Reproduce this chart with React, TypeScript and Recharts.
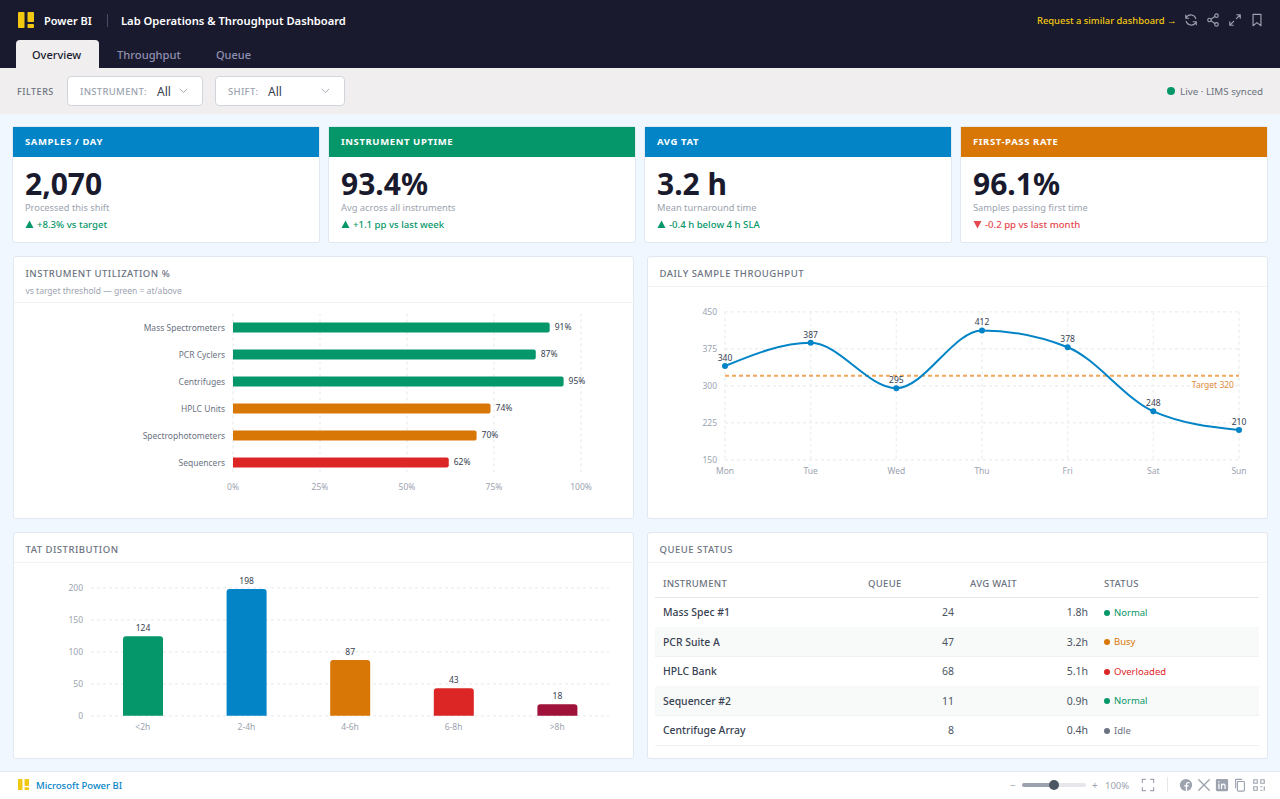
import { BarChart, Bar, LineChart, Line, XAxis, YAxis, CartesianGrid, Cell, LabelList, ReferenceLine } from 'recharts'

const FONT = '"Noto Sans", sans-serif'
const GREEN = '#059669'
const BLUE = '#0284c7'
const AMBER = '#d97706'
const RED = '#dc2626'
const MAROON = '#9f1239'
const GRID = '#eef0f2'

// utilization
const instruments = ['Mass Spectrometers', 'PCR Cyclers', 'Centrifuges', 'HPLC Units', 'Spectrophotometers', 'Sequencers']
const utilization = [91, 87, 95, 74, 70, 62]
const utilColors = [GREEN, GREEN, GREEN, AMBER, AMBER, RED]
const utilTicks = [0, 25, 50, 75, 100]

// throughput
const days = ['Mon', 'Tue', 'Wed', 'Thu', 'Fri', 'Sat', 'Sun']
const samples = [340, 387, 295, 412, 378, 248, 210]
const sampleTicks = [150, 225, 300, 375, 450]
const targetSamples = 320

// TAT
const tatBuckets = ['<2h', '2-4h', '4-6h', '6-8h', '>8h']
const tatCounts = [124, 198, 87, 43, 18]
const tatColors = [GREEN, BLUE, AMBER, RED, MAROON]
const tatTicks = [0, 50, 100, 150, 200]

// queue table
const queueNames = ['Mass Spec #1', 'PCR Suite A', 'HPLC Bank', 'Sequencer #2', 'Centrifuge Array']
const queueCounts = [24, 47, 68, 11, 8]
const queueWaits = ['1.8h', '3.2h', '5.1h', '0.9h', '0.4h']
const queueStatus = ['Normal', 'Busy', 'Overloaded', 'Normal', 'Idle']
const statusColors: Record<string, string> = { Normal: GREEN, Busy: AMBER, Overloaded: RED, Idle: '#6b7280' }

// KPI cards
const kpiTitles = ['SAMPLES / DAY', 'INSTRUMENT UPTIME', 'AVG TAT', 'FIRST-PASS RATE']
const kpiValues = ['2,070', '93.4%', '3.2 h', '96.1%']
const kpiSubs = ['Processed this shift', 'Avg across all instruments', 'Mean turnaround time', 'Samples passing first time']
const kpiDeltas = ['+8.3% vs target', '+1.1 pp vs last week', '-0.4 h below 4 h SLA', '-0.2 pp vs last month']
const kpiColors = [BLUE, GREEN, BLUE, AMBER]

const utilData = instruments.map((name, i) => ({ name, value: utilization[i] }))
const sampleData = days.map((day, i) => ({ day, value: samples[i] }))
const tatData = tatBuckets.map((bucket, i) => ({ bucket, value: tatCounts[i] }))

const box = (left: number, top: number, width: number, height: number): React.CSSProperties => ({
  position: 'absolute', left, top, width, height, boxSizing: 'border-box',
})
const txt = (left: number, cy: number, size: number, color: string, weight = 400): React.CSSProperties => ({
  position: 'absolute', left, top: cy - 10, height: 20, lineHeight: '20px', fontSize: size, color, fontWeight: weight, whiteSpace: 'nowrap',
})

function Logo({ x, y, h }: { x: number; y: number; h: number }) {
  const k = h / 16
  return (
    <svg style={{ position: 'absolute', left: x, top: y }} width={16 * k} height={h} viewBox="0 0 16 16">
      <rect x="0" y="0" width="6.5" height="16" rx="0.8" fill="#f2c811" />
      <rect x="9.5" y="0" width="6.5" height="10" rx="0.8" fill="#f2c811" />
      <rect x="9.5" y="12" width="6.5" height="4" rx="0.8" fill="#f2c811" />
    </svg>
  )
}

function Icon({ x, y, children, color = '#9ca3af', size = 14 }: { x: number; y: number; children: React.ReactNode; color?: string; size?: number }) {
  return (
    <svg style={{ position: 'absolute', left: x, top: y }} width={size} height={size} viewBox="0 0 16 16" fill="none" stroke={color} strokeWidth="1.3" strokeLinecap="round" strokeLinejoin="round">
      {children}
    </svg>
  )
}

function Card({ x, y, w, h, title, sub, headH }: { x: number; y: number; w: number; h: number; title: string; sub?: string; headH: number }) {
  return (
    <div style={{ ...box(x, y, w, h), background: '#fff', border: '1px solid #e2e8f0', borderRadius: 3 }}>
      <div style={txt(12, 17, 9.5, '#6b7280', 500)}><span style={{ letterSpacing: 0.5 }}>{title}</span></div>
      {sub && <div style={txt(12, 34, 8.5, '#9ca3af')}>{sub}</div>}
      <div style={{ ...box(0, headH, w - 2, 1), background: '#f1f3f5' }} />
    </div>
  )
}

const axisTick = { fontSize: 8.5, fill: '#9ca3af', fontFamily: FONT }
const valueLabel = { fontSize: 8.5, fill: '#374151', fontFamily: FONT }

export default function App() {
  return (
    <div style={{ ...box(0, 0, 1280, 799), position: 'fixed', overflow: 'hidden', background: '#f0f7ff', fontFamily: FONT }}>
      {/* top bar */}
      <div style={{ ...box(0, 0, 1280, 68), background: '#1a1a2e' }} />
      <Logo x={18} y={12} h={16} />
      <div style={txt(44, 21, 11, '#fff', 600)}>Power BI</div>
      <div style={{ ...box(107, 14, 1, 13), background: '#4b4b68' }} />
      <div style={txt(121, 21, 11.2, '#fff', 600)}>Lab Operations &amp; Throughput Dashboard</div>
      <div style={txt(1037, 21, 9.4, '#f2c811', 500)}>Request a similar dashboard →</div>
      <Icon x={1184} y={13}><path d="M13.5 6.5A6 6 0 0 0 3 4.5L2 6M2.5 9.5A6 6 0 0 0 13 11.5l1-1.5M2 2.5V6h3.5M14 13.5V10h-3.5" /></Icon>
      <Icon x={1206} y={13}><circle cx="12" cy="3" r="2" /><circle cx="4" cy="8" r="2" /><circle cx="12" cy="13" r="2" /><path d="M6 7l4-3M6 9l4 3" /></Icon>
      <Icon x={1228} y={13}><path d="M9.5 6.5L14 2M14 2h-4M14 2v4M6.5 9.5L2 14M2 14h4M2 14v-4" /></Icon>
      <Icon x={1250} y={13}><path d="M3.5 1.5h9v13L8 11l-4.5 3.5z" /></Icon>

      {/* tabs */}
      <div style={{ ...box(16, 40, 83, 28), background: '#f0eeee', borderRadius: '4px 4px 0 0' }} />
      <div style={txt(32, 55, 11, '#1a1a2e', 500)}>Overview</div>
      <div style={txt(117, 55, 11.2, '#8f8fb0', 500)}>Throughput</div>
      <div style={txt(216, 55, 11, '#8f8fb0', 500)}>Queue</div>

      {/* filters */}
      <div style={{ ...box(0, 68, 1280, 46), background: '#f0eeee' }} />
      <div style={txt(17, 92, 9, '#6b7280', 500)}><span style={{ letterSpacing: 0.5 }}>FILTERS</span></div>
      <div style={{ ...box(67, 76, 136, 30), background: '#fff', border: '1px solid #d1d5db', borderRadius: 4 }} />
      <div style={txt(80, 92, 9.5, '#9ca3af', 500)}><span style={{ letterSpacing: 0.3 }}>INSTRUMENT:</span></div>
      <div style={txt(157, 92, 12, '#374151')}>All</div>
      <Icon x={178} y={85} size={11}><path d="M3 6l5 5 5-5" /></Icon>
      <div style={{ ...box(215, 76, 130, 30), background: '#fff', border: '1px solid #d1d5db', borderRadius: 4 }} />
      <div style={txt(228, 92, 9.5, '#9ca3af', 500)}><span style={{ letterSpacing: 0.3 }}>SHIFT:</span></div>
      <div style={txt(268, 92, 12, '#374151')}>All</div>
      <Icon x={320} y={85} size={11}><path d="M3 6l5 5 5-5" /></Icon>
      <div style={{ ...box(1167, 87, 8, 8), background: GREEN, borderRadius: '50%' }} />
      <div style={txt(1180, 92, 9.8, '#6b7280')}>Live · LIMS synced</div>

      {/* KPI cards */}
      {kpiTitles.map((title, i) => {
        const x = 13 + i * 316
        const down = kpiDeltas[i].startsWith('-0.2')
        const deltaColor = down ? '#e5484d' : GREEN
        return (
          <div key={title} style={{ ...box(x, 127, 306, 115), background: '#fff', boxShadow: '0 0 0 1px #e2e8f0', borderRadius: 2 }}>
            <div style={{ ...box(0, 0, 306, 30), background: kpiColors[i] }} />
            <div style={txt(12, 14.5, 9.5, '#fff', 700)}><span style={{ letterSpacing: 0.6 }}>{title}</span></div>
            <div style={txt(12, 57, 30, '#1a1a2e', 700)}>{kpiValues[i]}</div>
            <div style={txt(12, 81, 9.3, '#9ca3af')}>{kpiSubs[i]}</div>
            <svg style={{ position: 'absolute', left: 12, top: 93 }} width={9} height={9} viewBox="0 0 9 9">
              <path d={down ? 'M0.5 1h8L4.5 8.5z' : 'M0.5 8h8L4.5 0.5z'} fill={down ? '#e5484d' : GREEN} />
            </svg>
            <div style={txt(24, 98, 9.6, deltaColor, 500)}>{kpiDeltas[i]}</div>
          </div>
        )
      })}

      {/* utilization */}
      <Card x={12.5} y={255.5} w={621} h={263} title="INSTRUMENT UTILIZATION %" sub="vs target threshold — green = at/above" headH={45} />
      <div style={box(13, 302, 620, 216)}>
        <BarChart width={620} height={216} data={utilData} layout="vertical" margin={{ top: 11.5, right: 52, bottom: 12.5, left: 0 }}>
          <CartesianGrid horizontal={false} stroke={GRID} strokeWidth={1.5} strokeDasharray="3 3" />
          <XAxis type="number" domain={[0, 100]} ticks={utilTicks} tickFormatter={(v) => `${v}%`} axisLine={false} tickLine={false} tick={axisTick} />
          <YAxis type="category" dataKey="name" width={220} axisLine={false} tickLine={false} tick={{ ...axisTick, fill: '#6b7280', dy: 1 }} />
          <Bar dataKey="value" barSize={10} radius={[0, 2, 2, 0]} isAnimationActive={false}>
            {utilData.map((d, i) => <Cell key={d.name} fill={utilColors[i]} />)}
            <LabelList dataKey="value" position="right" dy={-1} formatter={(v: any) => `${v}%`} style={valueLabel} />
          </Bar>
        </BarChart>
      </div>

      {/* throughput */}
      <Card x={646.5} y={255.5} w={621} h={263} title="DAILY SAMPLE THROUGHPUT" headH={29} />
      <div style={box(647, 286, 620, 232)}>
        <LineChart width={620} height={232} data={sampleData} margin={{ top: 25.7, right: 28, bottom: 28.3, left: 0 }}>
          <CartesianGrid stroke={GRID} strokeWidth={1.5} strokeDasharray="3 3" />
          <XAxis dataKey="day" axisLine={false} tickLine={false} tick={axisTick} interval={0} />
          <YAxis domain={[150, 450]} ticks={sampleTicks} width={78} axisLine={false} tickLine={false} tick={axisTick} />
          <ReferenceLine y={targetSamples} stroke="#f2a65a" strokeDasharray="4 3" strokeWidth={2}
            label={{ value: 'Target 320', position: 'insideBottomRight', fontSize: 8.5, fill: '#e08a3c', fontFamily: FONT, dy: 17, dx: 0 }} />
          <Line type="monotone" dataKey="value" stroke={BLUE} strokeWidth={2} dot={{ r: 3, fill: BLUE, stroke: BLUE, strokeWidth: 0 }} isAnimationActive={false}>
            <LabelList dataKey="value" position="top" style={valueLabel} />
          </Line>
        </LineChart>
      </div>

      {/* TAT */}
      <Card x={12.5} y={531.5} w={621} h={227} title="TAT DISTRIBUTION" headH={29} />
      <div style={box(13, 562, 620, 196)}>
        <BarChart width={620} height={196} data={tatData} margin={{ top: 25.7, right: 24, bottom: 12.3, left: 0 }}>
          <CartesianGrid vertical={false} stroke={GRID} strokeWidth={1.5} strokeDasharray="3 3" />
          <XAxis dataKey="bucket" axisLine={false} tickLine={false} tick={axisTick} interval={0} />
          <YAxis domain={[0, 200]} ticks={tatTicks} width={78} axisLine={false} tickLine={false} tick={axisTick} />
          <Bar dataKey="value" barSize={40} radius={[3, 3, 0, 0]} isAnimationActive={false}>
            {tatData.map((d, i) => <Cell key={d.bucket} fill={tatColors[i]} />)}
            <LabelList dataKey="value" position="top" style={valueLabel} />
          </Bar>
        </BarChart>
      </div>

      {/* queue */}
      <Card x={646.5} y={531.5} w={621} h={227} title="QUEUE STATUS" headH={29} />
      <div style={txt(663, 584, 9.5, '#6b7280', 500)}><span style={{ letterSpacing: 0.3 }}>INSTRUMENT</span></div>
      <div style={txt(868, 584, 9.5, '#6b7280', 500)}><span style={{ letterSpacing: 0.3 }}>QUEUE</span></div>
      <div style={txt(970, 584, 9.5, '#6b7280', 500)}><span style={{ letterSpacing: 0.3 }}>AVG WAIT</span></div>
      <div style={txt(1104, 584, 9.5, '#6b7280', 500)}><span style={{ letterSpacing: 0.3 }}>STATUS</span></div>
      <div style={{ ...box(655, 597, 604, 1), background: '#e5e7eb' }} />
      {queueNames.map((name, i) => {
        const top = 597.5 + i * 29.5
        const cy = top + 14.5
        const color = statusColors[queueStatus[i]]
        return (
          <div key={name}>
            {i % 2 === 1 && <div style={{ ...box(655, top, 604, 29.5), background: '#f8faf9' }} />}
            <div style={{ ...box(655, top + 29, 604, 1), background: '#f0f1f3' }} />
            <div style={txt(663, cy, 10.4, '#374151', 500)}>{name}</div>
            <div style={{ ...txt(0, cy, 10.5, '#4b5563'), left: 'auto', right: 1280 - 954 }}>{queueCounts[i]}</div>
            <div style={{ ...txt(0, cy, 10.5, '#4b5563'), left: 'auto', right: 1280 - 1088 }}>{queueWaits[i]}</div>
            <div style={{ ...box(1104, cy - 2.5, 6, 6), background: color, borderRadius: '50%' }} />
            <div style={txt(1114, cy + 0.5, 9.5, color)}>{queueStatus[i]}</div>
          </div>
        )
      })}

      {/* footer */}
      <div style={{ ...box(0, 771, 1280, 28), background: '#fff', borderTop: '1px solid #e2e8f0' }} />
      <Logo x={18} y={779} h={11} />
      <div style={txt(36, 786, 9.5, BLUE, 500)}>Microsoft Power BI</div>
      <div style={txt(1010, 785, 10, '#9ca3af')}>−</div>
      <div style={{ ...box(1022, 783, 64, 4), background: '#e5e7eb', borderRadius: 2 }} />
      <div style={{ ...box(1022, 783, 32, 4), background: '#9ca3af', borderRadius: 2 }} />
      <div style={{ ...box(1049, 780, 10, 10), background: '#4b5563', borderRadius: '50%' }} />
      <div style={txt(1092, 785, 10, '#9ca3af')}>+</div>
      <div style={txt(1105, 786, 9.5, '#9ca3af')}>100%</div>
      <Icon x={1141} y={778}><path d="M1.5 5V1.5H5M11 1.5h3.5V5M14.5 11v3.5H11M5 14.5H1.5V11" /></Icon>
      <div style={{ ...box(1167, 777, 1, 15), background: '#e5e7eb' }} />
      <Icon x={1179} y={778}><circle cx="8" cy="8" r="7" fill="#9ca3af" stroke="none" /><path d="M8.5 15V7.5c0-1.5 1-2.5 3-2.2M6.5 9h4" stroke="#fff" strokeWidth="1.5" /></Icon>
      <Icon x={1197} y={778}><path d="M2 2l12 12M14 2L2 14" strokeWidth="1.6" /></Icon>
      <Icon x={1215} y={778}><rect x="1" y="1" width="14" height="14" rx="1.5" fill="#9ca3af" stroke="none" /><path d="M4.5 7v5M4.5 4.2v.3M7.5 12V7M7.5 9c.5-2.5 4-2.5 4 0v3" stroke="#fff" strokeWidth="1.4" /></Icon>
      <Icon x={1233} y={778}><rect x="5" y="4" width="8" height="11" rx="1" /><path d="M3 11V1.5h7" /></Icon>
      <Icon x={1252} y={778}><path d="M2 2h4v4H2zM10 2h4v4h-4zM2 10h4v4H2zM10 10h1.5M14 10v4M10 14h1.5" /></Icon>
    </div>
  )
}
